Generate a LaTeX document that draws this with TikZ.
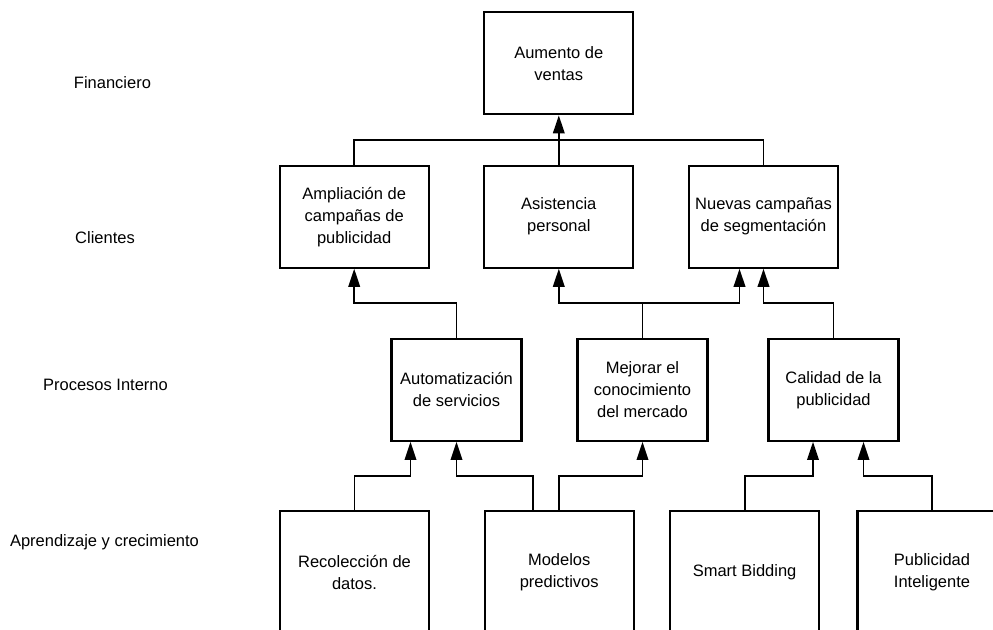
\documentclass[tikz,border=0pt]{standalone}
\usepackage{fontspec}
\setmainfont{Liberation Sans}
\usetikzlibrary{arrows.meta}
\begin{document}
\begin{tikzpicture}[x=1pt,y=-1pt,
  box/.style={draw=black,line width=2.1pt,fill=white,rectangle,inner sep=2pt,
    minimum width=149pt,minimum height=102pt,align=center,
    font=\fontsize{16.5}{22}\selectfont},
  pbox/.style={box,minimum width=130pt},
  bbox/.style={box,minimum height=122pt},
  lbl/.style={font=\fontsize{16.5}{22}\selectfont,inner sep=0pt},
  conn/.style={line width=1.9pt,draw=black},
  arr/.style={conn,-{Triangle[length=18pt,width=11.5pt]}}]
\clip (0,0) rectangle (993,629);
\fill[white] (0,0) rectangle (993,629);
% row labels
\node[lbl] (lf) at (112.5,83) {Financiero};
\node[lbl] (lc) at (105,238) {Clientes};
\node[lbl] (lp) at (105.5,385) {Procesos Interno};
\node[lbl] (la) at (104.5,542) {Aprendizaje y crecimiento};
% boxes
\node[box] (top) at (558.8,63.3) {Aumento de\\ventas};
\node[box] (c1) at (354.2,216.7) {Ampliación de\\campañas de\\publicidad};
\node[box] (c2) at (558.8,216.7) {Asistencia\\personal};
\node[box] (c3) at (763.5,216.7) {Nuevas campañas\\de segmentación};
\node[pbox] (pA) at (456.5,389.8) {Automatización\\de servicios};
\node[pbox] (pB) at (642.5,389.8) {Mejorar el\\conocimiento\\del mercado};
\node[pbox] (pC) at (833.5,389.8) {Calidad de la\\publicidad};
\node[bbox] (b1) at (354.5,572) {Recolección de\\datos.};
\node[bbox] (b2) at (559.2,572) {Modelos\\predictivos};
\node[bbox] (b3) at (744.6,572) {Smart Bidding};
\node[bbox] (b4) at (932,572) {Publicidad\\Inteligente};
% clientes -> financiero
\draw[conn] (c1.north) -- (c1.north |- 0,140) -| (c3.north);
\draw[arr] (c2.north) -- (top.south);
% procesos -> clientes
\draw[arr] (pA.north) -- (pA.north |- 0,303) -| (c1.south);
\draw[arr] (pB.north) -- (pB.north |- 0,303) -| (c2.south);
\draw[arr] (pB.north |- 0,303) -| ([xshift=-24pt]c3.south);
\draw[arr] (pC.north) -- (pC.north |- 0,303) -| (c3.south);
% aprendizaje -> procesos
\draw[arr] (b1.north) -- (b1.north |- 0,476) -| ([xshift=-46pt]pA.south);
\draw[arr] ([xshift=-26.5pt]b2.north) -- ([xshift=-26.5pt]b2.north |- 0,476) -| (pA.south);
\draw[arr] (b2.north) -- (b2.north |- 0,476) -| (pB.south);
\draw[arr] (b3.north) -- (b3.north |- 0,476) -| ([xshift=-20.5pt]pC.south);
\draw[arr] (b4.north) -- (b4.north |- 0,476) -| ([xshift=30pt]pC.south);
\end{tikzpicture}
\end{document}
